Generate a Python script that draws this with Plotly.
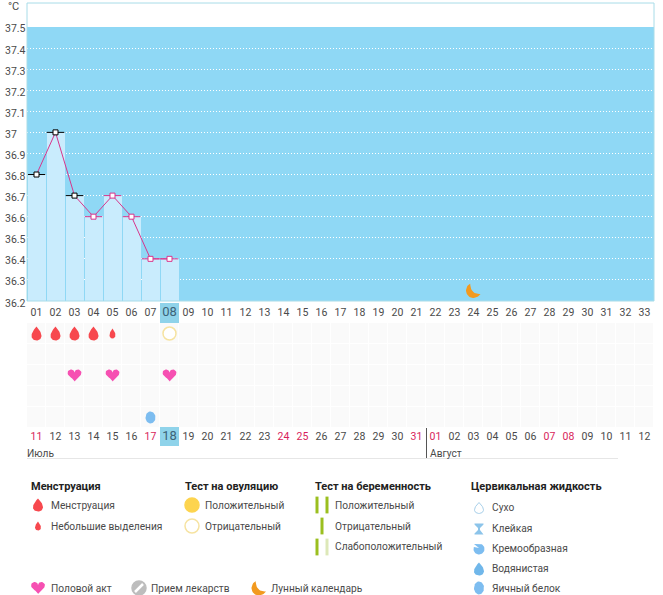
import numpy as np
import plotly.graph_objs as go

# chart values
days = list(range(1, 34))
day_labels = [f'{d:02d}' for d in days]
date_labels = ['11', '12', '13', '14', '15', '16', '17', '18', '19', '20', '21', '22',
               '23', '24', '25', '26', '27', '28', '29', '30', '31', '01', '02', '03',
               '04', '05', '06', '07', '08', '09', '10', '11', '12']
red_dates = [0, 6, 13, 14, 20, 21, 27, 28]  # index into date_labels
temp_ticks = ['36.2', '36.3', '36.4', '36.5', '36.6', '36.7', '36.8', '36.9',
              '37', '37.1', '37.2', '37.3', '37.4', '37.5']
temp_days = [1, 2, 3, 4, 5, 6, 7, 8]
temps = [36.8, 37.0, 36.7, 36.6, 36.7, 36.6, 36.4, 36.4]
black_days = [1, 2, 3]
today = 8
moon_day = 24
moon_temp = 36.25

period_days = [1, 2, 3, 4]
spotting_days = [5]
ovulation_neg_days = [8]
sex_days = [3, 5, 8]
egg_days = [7]

months = ['Июль', 'Август']
group_titles = ['Менструация', 'Тест на овуляцию', 'Тест на беременность', 'Цервикальная жидкость']
period_labels = ['Менструация', 'Небольшие выделения']
ovulation_labels = ['Положительный', 'Отрицательный']
pregnancy_labels = ['Положительный', 'Отрицательный', 'Слабоположительный']
fluid_labels = ['Сухо', 'Клейкая', 'Кремообразная', 'Водянистая', 'Яичный белок']
other_labels = ['Половой акт', 'Прием лекарств', 'Лунный календарь']

W, H = 663, 595
X0, X1 = 27, 654
COL = 19.0
ROW = 21.0
PX_PER_DEG = 210.8
TEXT = '#4a4a4a'
RED = '#f7484e'
PINK = '#f650b2'
LINE = '#d8358c'
ORANGE = '#f29a1f'
BLUE = '#8fd8f5'
FONT = 'Roboto'


def drop(w, h):
    t = np.linspace(0, 2 * np.pi, 60)
    return w / 2 * np.sin(t) * np.sin(t / 2) / 0.77, -np.cos(t) * h / 2


def heart(w, h):
    t = np.linspace(0, 2 * np.pi, 60)
    x = 16 * np.sin(t) ** 3
    y = -(13 * np.cos(t) - 5 * np.cos(2 * t) - 2 * np.cos(3 * t) - np.cos(4 * t))
    return x * w / 32, (y - 2.5) * h / 29


def oval(w, h):
    t = np.linspace(0, 2 * np.pi, 40)
    return w / 2 * np.sin(t), h / 2 * -np.cos(t)


def moon():
    a = np.radians(np.linspace(243, 28, 30))
    ox, oy = 7.5 * np.cos(a), 7.5 * np.sin(a)
    s = np.linspace(0, 1, 15)
    ix = (1 - s) ** 2 * 7 + 2 * s * (1 - s) * -3 + s ** 2 * -3.3
    iy = (1 - s) ** 2 * 3.5 + 2 * s * (1 - s) * 4 + s ** 2 * -6.7
    return np.r_[ox, ix], np.r_[oy, iy]


def sticky():
    return (np.array([-4.5, 4.5, 4.5, 1, 1, 4.5, 4.5, -4.5, -4.5, -1, -1, -4.5, -4.5]),
            np.array([-5.5, -5.5, -4.5, -1, 1, 4.5, 5.5, 5.5, 4.5, 1, -1, -4.5, -5.5]))


def creamy():
    a = np.radians(np.linspace(-70, 200, 30))
    x, y = 5.5 * np.cos(a), 5.5 * np.sin(a)
    return np.r_[-5, x, 0, -5], np.r_[-5, y, -1, -5]


def blob(glyph, positions, color, xs=1.0, ys=1.0, xa='x3', ya='y3', line=None):
    # filled outline(s), px offsets scaled to the units of the axes
    gx, gy = glyph
    all_x, all_y = [], []
    for px, py in positions:
        all_x += list(px + gx * xs) + [None]
        all_y += list(py + gy * ys) + [None]
    return go.Scatter(x=all_x, y=all_y, xaxis=xa, yaxis=ya, mode='lines', fill='toself',
                      fillcolor=color, line=dict(color=line or color, width=1 if line else 0),
                      hoverinfo='skip', showlegend=False)


def dot(x, y, color, line, size=14, xa='x3', ya='y3', width=1.5):
    return go.Scatter(x=x, y=y, xaxis=xa, yaxis=ya, mode='markers', hoverinfo='skip', showlegend=False,
                      marker=dict(symbol='circle', size=size, color=color, line=dict(color=line, width=width)))


def stripe(x, y, color):
    return go.Scatter(x=x, y=y, xaxis='x3', yaxis='y3', mode='markers', hoverinfo='skip', showlegend=False,
                      marker=dict(symbol='line-ns', size=12, line=dict(color=color, width=3)))


def label(x, y, text, bold=False):
    return dict(x=x - 2, y=y, xref='x3', yref='y3', text=f'<b>{text}</b>' if bold else text, showarrow=False,
                xanchor='left', yanchor='middle', align='left',
                font=dict(family=FONT, size=11 if bold else 10.2, color='#222222' if bold else TEXT))


def temp_chart(fig):
    fig.add_trace(go.Bar(x=temp_days, y=temps, width=18 / 19, offset=-0.5 + 1 / 19, marker=dict(color='#c9ecfd', line=dict(width=0)),
                         hoverinfo='skip', showlegend=False))
    fig.add_trace(go.Scatter(x=temp_days, y=temps, mode='lines', line=dict(color=LINE, width=1),
                             hoverinfo='skip', showlegend=False))
    for sel, color in [(lambda d: d in black_days, 'black'), (lambda d: d not in black_days, LINE)]:
        xs = [d for d in temp_days if sel(d)]
        ys = [t for d, t in zip(temp_days, temps) if sel(d)]
        fig.add_trace(go.Scatter(x=xs, y=ys, mode='markers', hoverinfo='skip', showlegend=False,
                                 error_x=dict(type='constant', value=0.46, color=color, thickness=1, width=0),
                                 marker=dict(symbol='square', size=5, color='white', line=dict(color=color, width=1))))
    fig.add_trace(blob(moon(), [(moon_day, moon_temp)], ORANGE, 1 / COL, -1 / PX_PER_DEG, 'x', 'y'))


def day_grid(fig):
    fig.add_trace(go.Heatmap(x=days, y=[1, 2, 3, 4, 5], z=[[1] * len(days) for _ in range(5)], xaxis='x2', yaxis='y2',
                             xgap=1, ygap=1, showscale=False, hoverinfo='skip',
                             colorscale=[[0, '#fafafa'], [1, '#fafafa']]))
    kw = dict(xs=1 / COL, ys=1 / ROW, xa='x2', ya='y2')
    fig.add_trace(blob(drop(10, 14), [(d, 1) for d in period_days], RED, **kw))
    fig.add_trace(blob(drop(6, 10), [(d, 1) for d in spotting_days], RED, **kw))
    fig.add_trace(dot(ovulation_neg_days, [1] * len(ovulation_neg_days), 'white', '#f6e3a1', 13, 'x2', 'y2'))
    fig.add_trace(blob(heart(14, 12), [(d, 3) for d in sex_days], PINK, **kw))
    fig.add_trace(blob(oval(10, 12), [(d, 5) for d in egg_days], '#7dbdf0', **kw))


def legend(fig):
    ann = []
    for x, t in zip([31, 185, 315, 471], group_titles):
        ann.append(label(x, 486, t, True))
    for y, t in zip([505, 526], period_labels):
        ann.append(label(51, y, t))
    for y, t in zip([505, 526], ovulation_labels):
        ann.append(label(205, y, t))
    for y, t in zip([505, 526, 546], pregnancy_labels):
        ann.append(label(335, y, t))
    for y, t in zip([507, 528, 548, 568, 588], fluid_labels):
        ann.append(label(492, y, t))
    for x, t in zip([51, 151, 271], other_labels):
        ann.append(label(x, 588, t))
    fig.add_trace(blob(drop(10, 13), [(38, 505)], RED))
    fig.add_trace(blob(drop(6, 9), [(38, 526)], RED))
    fig.add_trace(dot([192], [505], '#fdd44e', '#fdd44e'))
    fig.add_trace(dot([192], [526], 'white', '#f6e3a1'))
    fig.add_trace(stripe([317, 327, 322, 317], [505, 505, 526, 547], '#9bbf1f'))
    fig.add_trace(stripe([327], [547], '#dde8b8'))
    fig.add_trace(blob(drop(9, 11), [(479, 508)], 'white', line='#a8d0ea'))
    fig.add_trace(blob(sticky(), [(479, 529)], '#8cc4ea'))
    fig.add_trace(blob(creamy(), [(479, 549)], '#7dbdf0'))
    fig.add_trace(blob(drop(10, 13), [(479, 569)], '#70b7ea'))
    fig.add_trace(blob(oval(10, 13), [(479, 588)], '#7dbdf0'))
    fig.add_trace(blob(heart(14, 12), [(38, 588)], PINK))
    fig.add_trace(dot([139], [588], '#bdbdbd', '#bdbdbd'))
    fig.add_trace(go.Scatter(x=[135, 143], y=[592, 584], xaxis='x3', yaxis='y3', mode='lines', hoverinfo='skip',
                             showlegend=False, line=dict(color='white', width=2.5)))
    fig.add_trace(blob(moon(), [(259, 588)], ORANGE))
    return ann


def main():
    fig = go.Figure()
    temp_chart(fig)
    day_grid(fig)
    ann = legend(fig)

    for t in temp_ticks:
        ann.append(dict(x=3, y=float(t), xref='x3', yref='y', text=t, showarrow=False, xanchor='left', yanchor='middle',
                        yshift=-2, font=dict(family=FONT, size=10.5, color=TEXT)))
    ann.append(dict(x=6, y=6, xref='x3', yref='y3', text='°C', showarrow=False, xanchor='left', yanchor='middle',
                    font=dict(family=FONT, size=11, color=TEXT)))
    ann.append(label(27, 453, months[0]))
    ann.append(label(430, 453, months[1]))

    selected = '<span style="font-size:13px;color:#3d6478">{}</span>'
    top_text = [selected.format(s) if d == today else s for d, s in zip(days, day_labels)]
    low_text = []
    for i, s in enumerate(date_labels):
        if days[i] == today:
            s = selected.format(s)
        elif i in red_dates:
            s = f'<span style="color:#d81e5b">{s}</span>'
        low_text.append(s)

    tick_font = dict(family=FONT, size=10.5, color=TEXT)
    shapes = [
        dict(type='rect', xref='x', yref='y', x0=0.5, x1=33.5, y0=36.2, y1=37.5, fillcolor=BLUE, line=dict(width=0), layer='below'),
        dict(type='rect', xref='x3', yref='y3', x0=X0, x1=X1, y0=3, y1=301, line=dict(color='#a8dce8', width=1), layer='below'),
        dict(type='rect', xref='x', yref='y3', x0=today - 0.5, x1=today + 0.5, y0=303, y1=323, fillcolor='#8fd3ea', line=dict(width=0), layer='below'),
        dict(type='rect', xref='x', yref='y3', x0=today - 0.5, x1=today + 0.5, y0=427, y1=446, fillcolor='#8fd3ea', line=dict(width=0), layer='below'),
        dict(type='line', xref='x3', yref='y3', x0=426.5, x1=426.5, y0=428, y1=458, line=dict(color='#555555', width=1)),
        dict(type='line', xref='x3', yref='y3', x0=27, x1=618, y0=458.5, y1=458.5, line=dict(color='#e6e6e6', width=1)),
    ]

    fig.update_layout(
        width=W, height=H, margin=dict(l=0, r=0, t=0, b=0), autosize=False,
        paper_bgcolor='white', plot_bgcolor='rgba(0,0,0,0)', hovermode=False, showlegend=False,
        annotations=ann, shapes=shapes,
        xaxis=dict(domain=[X0 / W, X1 / W], range=[0.5, 33.5], anchor='y', tickmode='array', tickvals=days, ticktext=top_text,
                   tickfont=tick_font, ticks='outside', ticklen=1, tickcolor='rgba(0,0,0,0)', showgrid=False, zeroline=False, showline=False),
        yaxis=dict(domain=[1 - 301 / H, 1 - 3 / H], range=[36.2, 36.2 + 298 / PX_PER_DEG], anchor='x', tickmode='array',
                   tickvals=[float(t) for t in temp_ticks[1:-1]], ticktext=[''] * 12, showgrid=True, griddash='1px,2px',
                   gridcolor='white', gridwidth=1, zeroline=False, showline=False),
        xaxis2=dict(domain=[X0 / W, X1 / W], range=[0.5, 33.5], anchor='y2', tickmode='array', tickvals=days, ticktext=low_text,
                    tickfont=tick_font, ticks='', showgrid=False, zeroline=False, showline=False),
        yaxis2=dict(domain=[1 - 428 / H, 1 - 323 / H], range=[5.5, 0.5], anchor='x2', showticklabels=False, showgrid=False,
                    zeroline=False, showline=False),
        xaxis3=dict(domain=[0, 1], range=[0, W], anchor='y3', visible=False),
        yaxis3=dict(domain=[0, 1], range=[H, 0], anchor='x3', visible=False),
    )
    fig.write_html('out.html', config=dict(displayModeBar=False), post_script="document.body.style.margin='0';")


if __name__ == '__main__':
    main()
